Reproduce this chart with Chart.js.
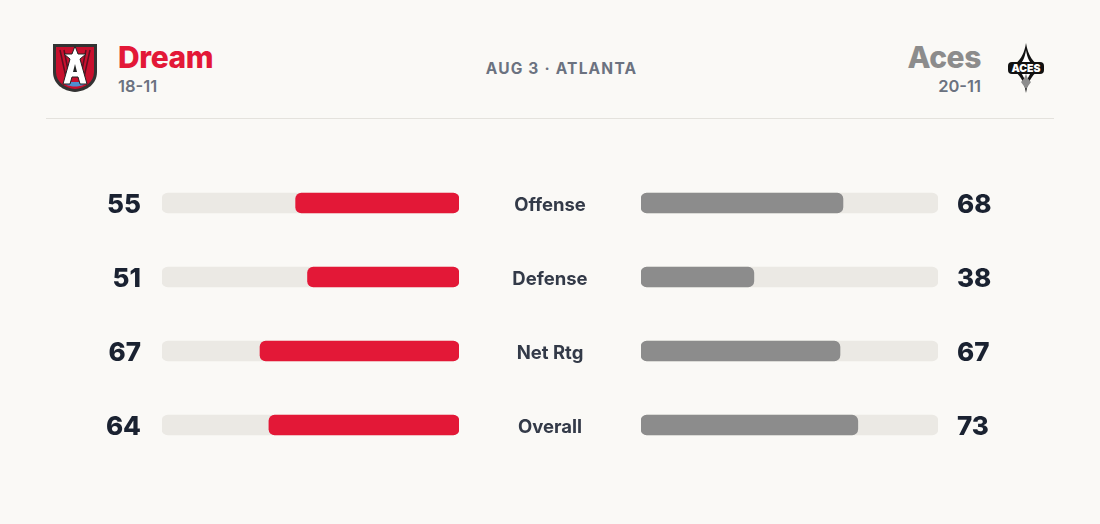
<!doctype html>
<html>
<head>
<meta charset="utf-8">
<title>Dream vs Aces</title>
<script src="https://cdn.jsdelivr.net/npm/chart.js@4/dist/chart.umd.min.js"></script>
<style>
html, body { margin: 0; padding: 0; background: #faf9f6; }
body { width: 1100px; height: 524px; position: relative; overflow: hidden; font-family: Inter, "Noto Sans", sans-serif; }
.abs { position: absolute; }
#homeName { left: 118px; top: 39px; font-size: 30px; font-weight: 800; color: #e31837; letter-spacing: -0.4px; }
#homeRec { left: 118px; top: 76px; font-size: 16.5px; font-weight: 600; color: #6b7280; }
#awayName { right: 119px; top: 39px; font-size: 30px; font-weight: 800; color: #8c8c8c; letter-spacing: -0.4px; }
#awayRec { right: 119px; top: 76px; font-size: 16.5px; font-weight: 600; color: #6b7280; }
#gameInfo { left: 461px; width: 201px; top: 59px; text-align: center; font-size: 15.5px; font-weight: 700; color: #6b7280; letter-spacing: 1.2px; }
#divider { left: 46px; top: 118px; width: 1008px; height: 1px; background: #e4e2dd; }
canvas { position: absolute; top: 0; }
</style>
</head>
<body>
	<svg class="abs" style="left:51px;top:42px" width="48" height="52" viewBox="0 0 48 52">
		<path d="M2 2 H46 V30 C46 42 36 49 24 50 C12 49 2 42 2 30 Z" fill="#333"/>
		<path d="M5 5 H43 V30 C43 40 34 46 24 47 C14 46 5 40 5 30 Z" fill="#c8102e"/>
		<path d="M9 8 L16 40 M39 8 L32 40 M13 8 L19 38 M35 8 L29 38" stroke="#5a1020" stroke-width="1.5"/>
		<path d="M12 40 C16 46 32 46 36 40 Z" fill="#4f8fcf"/>
		<path d="M24 4 L27 12 L35 12 L29 17 L36 42 H29 L27 35 H21 L19 42 H12 L19 17 L13 12 L21 12 Z" fill="#ffffff" stroke="#222" stroke-width="1"/>
		<path d="M22 30 H26 L24 22 Z" fill="#222"/>
	</svg>
	<div class="abs" id="homeName">Dream</div>
	<div class="abs" id="homeRec">18-11</div>
	<div class="abs" id="gameInfo">AUG 3 · ATLANTA</div>
	<div class="abs" id="awayName">Aces</div>
	<div class="abs" id="awayRec">20-11</div>
	<svg class="abs" style="left:1006px;top:42px" width="40" height="52" viewBox="0 0 40 52">
		<path d="M20 1 C22 14 27 20 36 26 C27 32 22 38 20 51 C18 38 13 32 4 26 C13 20 18 14 20 1 Z" fill="#111"/>
		<path d="M20 8 C21 16 24 21 29 26 C24 31 21 36 20 44 C19 36 16 31 11 26 C16 21 19 16 20 8 Z" fill="#fff"/>
		<path d="M20 31 C21 36 23 38 25 40 L20 47 L15 40 C17 38 19 36 20 31 Z" fill="#8c8c8c"/>
		<rect x="2" y="20" width="36" height="12" rx="4" fill="#111"/>
		<text x="20" y="30" text-anchor="middle" font-family="Inter, sans-serif" font-size="10.5" font-weight="900" fill="#fff">ACES</text>
	</svg>
	<div class="abs" id="divider"></div>

	<canvas id="leftChart" width="640" height="524" style="left:0px"></canvas>
	<canvas id="rightChart" width="460" height="524" style="left:640px"></canvas>

	<script>
		var categories  = ['Offense', 'Defense', 'Net Rtg', 'Overall'];
		var dreamValues = [55, 51, 67, 64];
		var acesValues  = [68, 38, 67, 73];
		var trackValues = [100, 100, 100, 100];
		var scaleMax = 100;

		var dreamRed = '#e31837';
		var acesGrey = '#8c8c8c';
		var trackColor = '#ebe9e4';

		// draws the number beside each bar, and the category label in the middle
		function rowTextPlugin(values, side)
		{
			return {
				id: 'rowText' + side,
				afterDatasetsDraw: function(chart) {
					var ctx = chart.ctx;
					var area = chart.chartArea;
					var yScale = chart.scales.y;
					ctx.save();
					for (var i = 0; i < values.length; i++)
					{
						var y = yScale.getPixelForValue(i);
						ctx.fillStyle = '#1a2231';
						ctx.font = '800 26px Inter, sans-serif';
						if (side == 'left') {
							ctx.textAlign = 'right';
							ctx.fillText(values[i], area.left - 21, y + 10);
							ctx.fillStyle = '#333a48';
							ctx.font = '700 18.5px Inter, sans-serif';
							ctx.textAlign = 'center';
							ctx.fillText(categories[i], 550, y + 7.5);
						} else {
							ctx.textAlign = 'left';
							ctx.fillText(values[i], area.right + 19, y + 10);
						}
					}
					ctx.restore();
				}
			};
		}

		function makeChart(canvasId, values, color, reverse, padding, side)
		{
			var ctx = document.getElementById(canvasId).getContext('2d');
			return new Chart(ctx, {
				type: 'bar',
				data: {
					labels: categories,
					datasets: [
						{
							data: values,
							backgroundColor: color,
							barThickness: 20,
							borderRadius: 6,
							borderSkipped: false,
							grouped: false,
							order: 0
						},
						{
							data: trackValues,
							backgroundColor: trackColor,
							barThickness: 20,
							borderRadius: 6,
							borderSkipped: false,
							grouped: false,
							order: 1
						}
					]
				},
				options: {
					indexAxis: 'y',
					responsive: false,
					animation: false,
					layout: { padding: padding },
					plugins: {
						legend: { display: false },
						tooltip: { enabled: false }
					},
					scales: {
						x: { type: 'linear', min: 0, max: scaleMax, reverse: reverse, display: false },
						y: { display: false }
					}
				},
				plugins: [rowTextPlugin(values, side)]
			});
		}

		makeChart('leftChart', dreamValues, dreamRed, true, { left: 162, right: 181, top: 166, bottom: 62 }, 'left');
		makeChart('rightChart', acesValues, acesGrey, false, { left: 1, right: 162, top: 166, bottom: 62 }, 'right');
	</script>
</body>
</html>
